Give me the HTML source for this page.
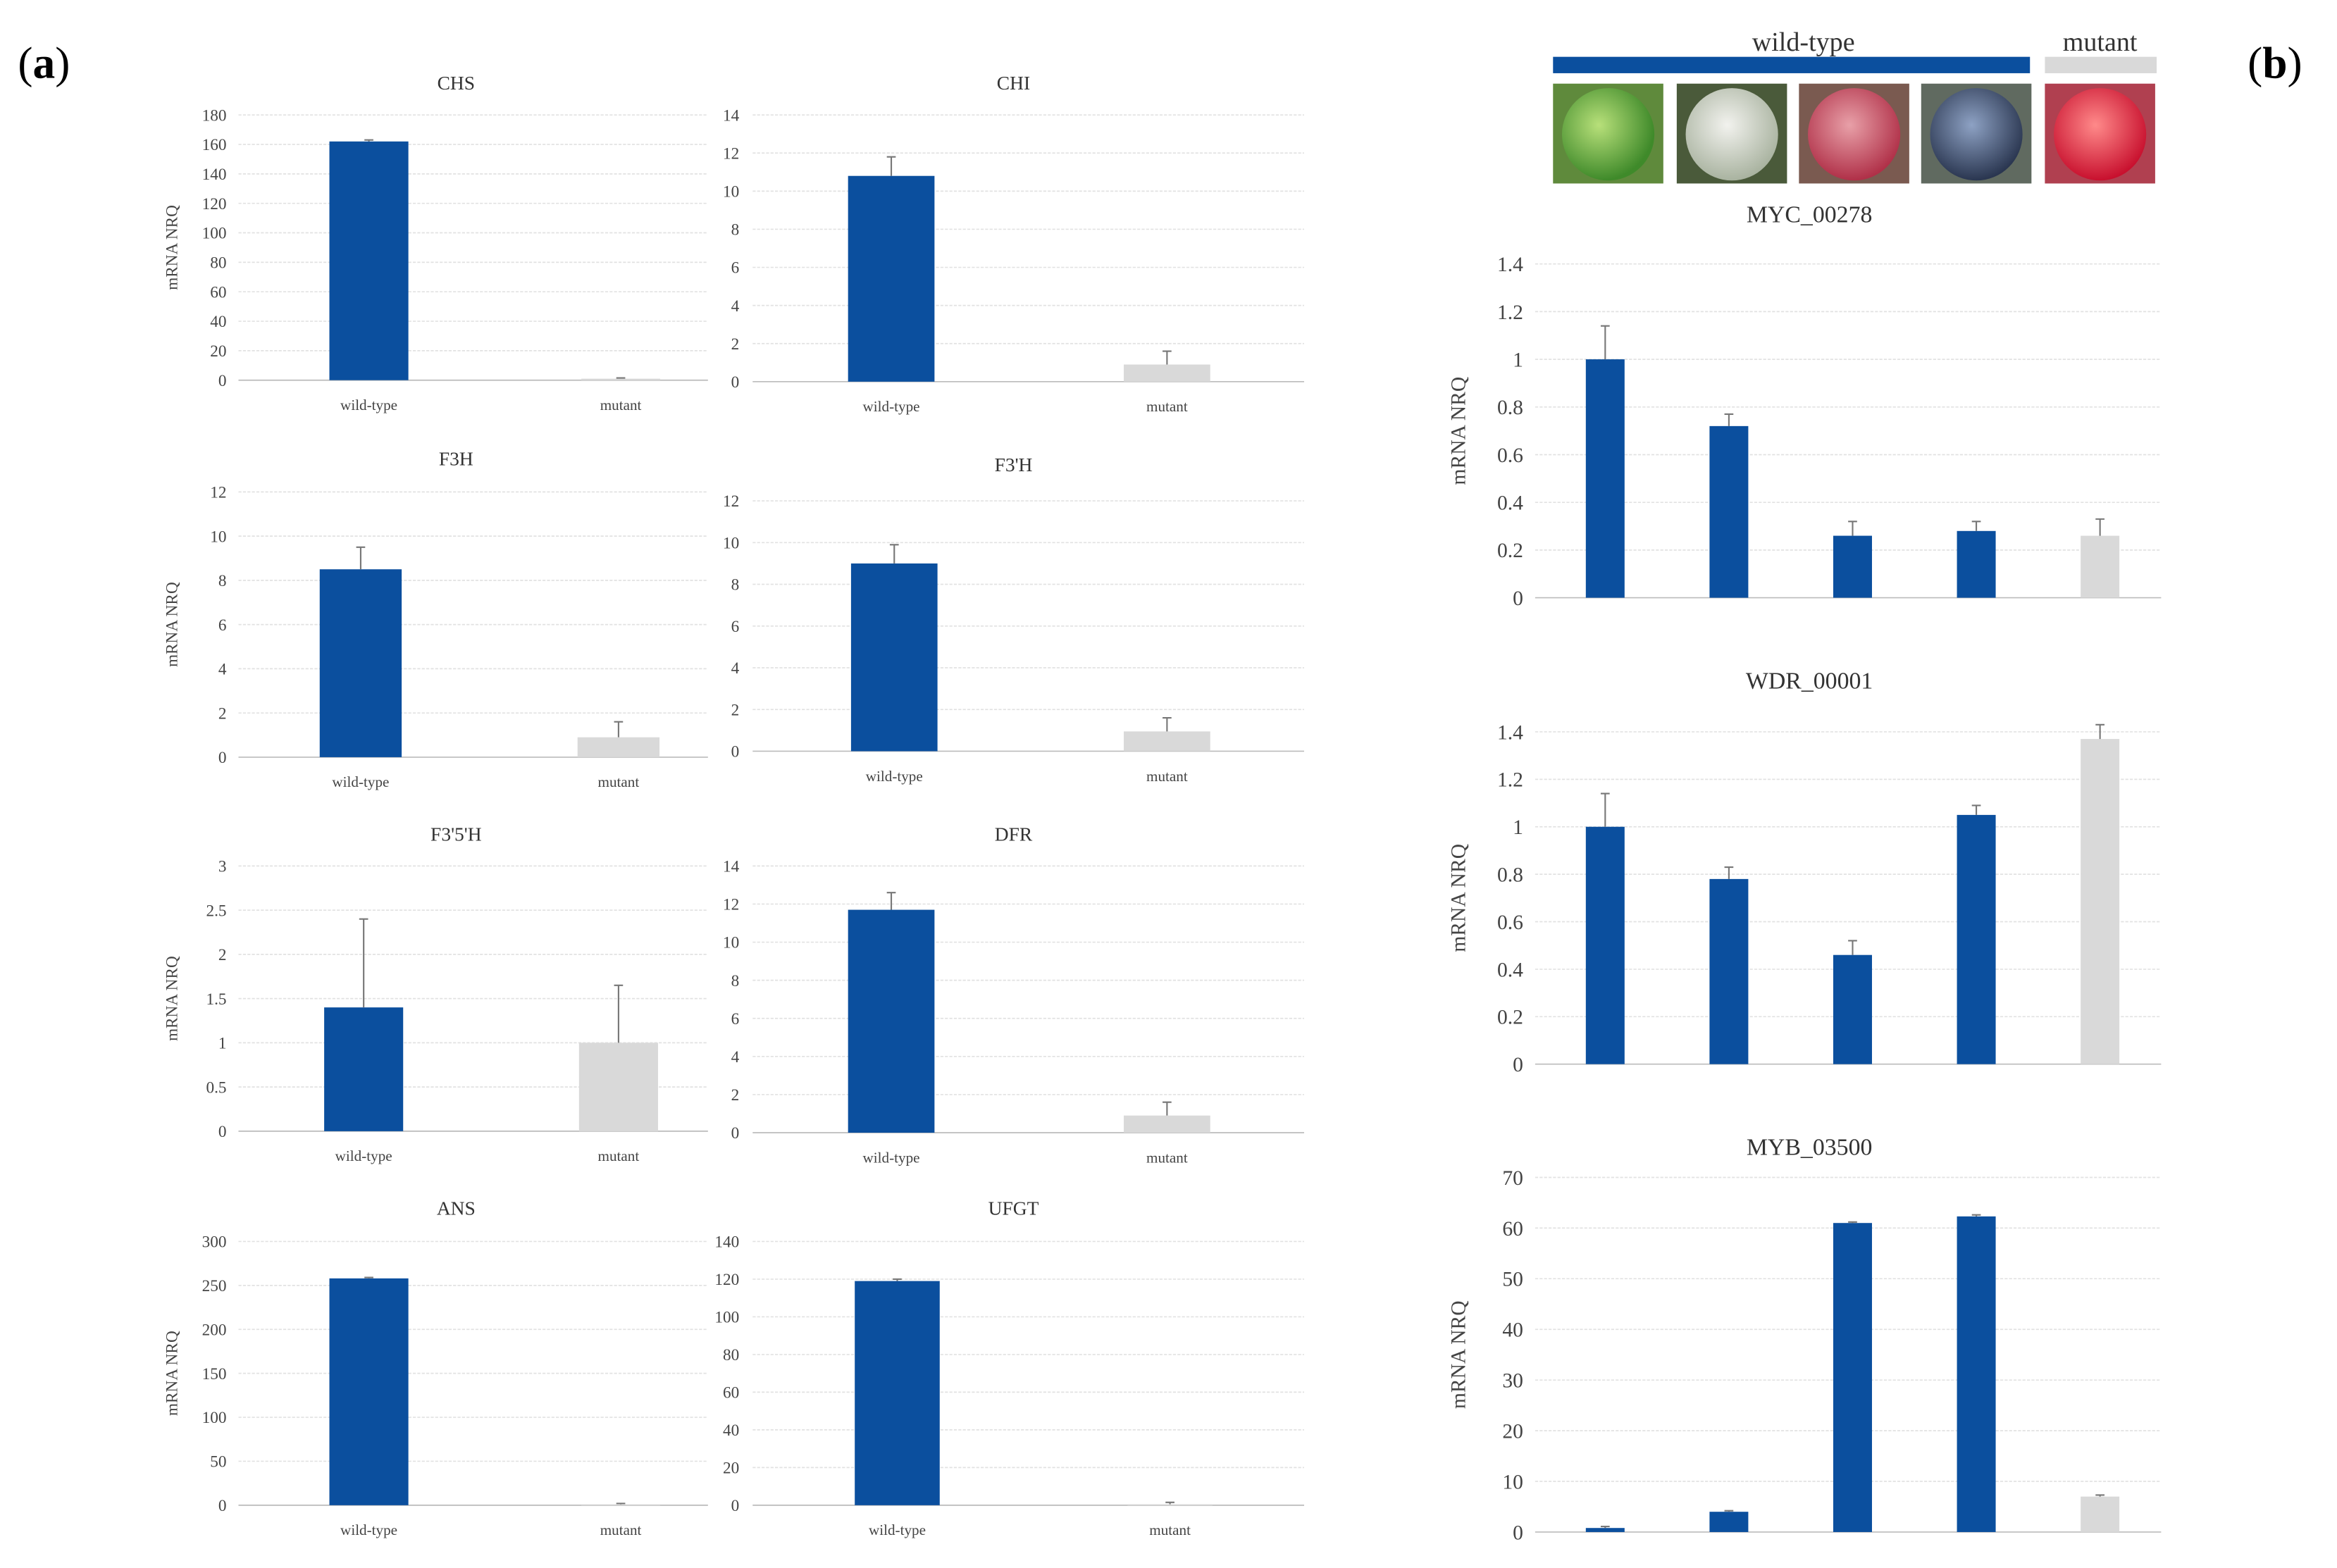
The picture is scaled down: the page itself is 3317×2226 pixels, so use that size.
<!DOCTYPE html>
<html><head><meta charset="utf-8">
<style>
html,body{margin:0;padding:0;background:#fff;}
svg{display:block;font-family:"Liberation Serif",serif;}
</style></head>
<body>
<svg id="fig" width="3317" height="2226" viewBox="0 0 1568 1052" xmlns="http://www.w3.org/2000/svg">
<defs>
<radialGradient id="g1" cx="40%" cy="40%" r="60%"><stop offset="0" stop-color="#b8e07a"/><stop offset="1" stop-color="#3f8a2a"/></radialGradient>
<radialGradient id="g2" cx="45%" cy="40%" r="60%"><stop offset="0" stop-color="#f2f2ee"/><stop offset="1" stop-color="#a9b3a0"/></radialGradient>
<radialGradient id="g3" cx="45%" cy="40%" r="60%"><stop offset="0" stop-color="#e8a0a8"/><stop offset="1" stop-color="#b03048"/></radialGradient>
<radialGradient id="g4" cx="45%" cy="40%" r="60%"><stop offset="0" stop-color="#8ea2c4"/><stop offset="1" stop-color="#2a3650"/></radialGradient>
<radialGradient id="g5" cx="45%" cy="40%" r="60%"><stop offset="0" stop-color="#ff8a8a"/><stop offset="1" stop-color="#c8102e"/></radialGradient>
</defs>
<g id="root"></g>
</svg>
<script>
// ---- data ----
const catsA = ["wild-type", "mutant"];
const catsB = ["", "", "", "", ""];
const chsValues = [162, 1];   const chsErrors = [1, 0.5];   const chsTicks = [0,20,40,60,80,100,120,140,160,180];
const chiValues = [10.8, 0.9]; const chiErrors = [1.0, 0.7]; const chiTicks = [0,2,4,6,8,10,12,14];
const f3hValues = [8.5, 0.9];  const f3hErrors = [1.0, 0.7]; const f3hTicks = [0,2,4,6,8,10,12];
const f3phValues = [9.0, 0.95]; const f3phErrors = [0.9, 0.65]; const f3phTicks = [0,2,4,6,8,10,12];
const f35hValues = [1.4, 1.0]; const f35hErrors = [1.0, 0.65]; const f35hTicks = [0,0.5,1,1.5,2,2.5,3];
const dfrValues = [11.7, 0.9]; const dfrErrors = [0.9, 0.7]; const dfrTicks = [0,2,4,6,8,10,12,14];
const ansValues = [258, 1];    const ansErrors = [1, 1];    const ansTicks = [0,50,100,150,200,250,300];
const ufgtValues = [119, 0.5]; const ufgtErrors = [1, 1];   const ufgtTicks = [0,20,40,60,80,100,120,140];
const mycValues = [1, 0.72, 0.26, 0.28, 0.26]; const mycErrors = [0.14, 0.05, 0.06, 0.04, 0.07];
const wdrValues = [1, 0.78, 0.46, 1.05, 1.37]; const wdrErrors = [0.14, 0.05, 0.06, 0.04, 0.06];
const mybValues = [0.8, 4, 61, 62.3, 7];       const mybErrors = [0.3, 0.2, 0.2, 0.3, 0.3];
const ticksB1 = [0,0.2,0.4,0.6,0.8,1,1.2,1.4];
const ticksB3 = [0,10,20,30,40,50,60,70];

const NS = "http://www.w3.org/2000/svg";
const root = document.getElementById("root");
const BLUE = "#0b4f9e", GREY = "#d9d9d9";
function mk(tag, attrs, parent, text){
  const e = document.createElementNS(NS, tag);
  for (const k in attrs) e.setAttribute(k, attrs[k]);
  if (text !== undefined) e.textContent = text;
  (parent || root).appendChild(e);
  return e;
}
function chart(c){
  const g = mk("g", {});
  
  
  const max = c.ticks[c.ticks.length-1];
  const y = v => c.y0 - (v / max) * (c.y0 - c.yTop);
  const bw = (c.bx1 - c.bx0) / c.values.length;
  const xc = i => c.bx0 + (i + 0.5) * bw;
  const t = mk("text", {x: c.tx, y: c.titleY, "text-anchor": "middle", "font-size": c.fs + 2, fill: "#333"}, g, c.title);
  
  
  c.ticks.forEach(v => {
    const gl = mk("line", {x1: c.gx0, x2: c.gx1, y1: y(v), y2: y(v), stroke: v === 0 ? "#bbb" : "#e2e2e2", "stroke-width": 0.8, "stroke-dasharray": v === 0 ? "" : "2,1"}, g);
    
    
    const tl = mk("text", {x: c.lx, y: y(v) + c.fs * 0.35, "text-anchor": "end", "font-size": c.fs, fill: "#444"}, g, String(v));
    
    
  });
  if (c.ylab){
    const yl = mk("text", {x: c.ylabX, y: (c.y0 + c.yTop)/2, "text-anchor": "middle", "font-size": c.fs, fill: "#444", transform: `rotate(-90 ${c.ylabX} ${(c.y0 + c.yTop)/2})`}, g, "mRNA NRQ");
    
    
  }
  c.values.forEach((v, i) => {
    const col = (c.greyIdx === i) ? GREY : BLUE;
    const r = mk("rect", {x: xc(i) - c.w/2, y: y(v), width: c.w, height: c.y0 - y(v), fill: col}, g);
    
    
    const e = c.errors[i];
    const eb = mk("path", {d: `M${xc(i)} ${y(v)} V${y(v+e)} M${xc(i)-3} ${y(v+e)} H${xc(i)+3}`, stroke: "#777", "stroke-width": 1, fill: "none"}, g);
    
    
    if (c.cats[i]){
      const xl = mk("text", {x: xc(i), y: c.y0 + 20, "text-anchor": "middle", "font-size": c.fs - 1, fill: "#444"}, g, c.cats[i]);
      
      
    }
  });
}
const L = {gx0: 160, gx1: 475, lx: 152, ylab: true, ylabX: 119, fs: 11, cats: catsA, greyIdx: 1};
const R = {gx0: 505, gx1: 875, lx: 496, ylab: false, fs: 11, cats: catsA, greyIdx: 1};
chart(Object.assign({}, L, {name: "chart-chs", title: "CHS", tx: 306, titleY: 60, yTop: 77, y0: 255, bx0: 163, bx1: 501, w: 53, values: chsValues, errors: chsErrors, ticks: chsTicks}));
chart(Object.assign({}, R, {name: "chart-chi", title: "CHI", tx: 680, titleY: 60, yTop: 77, y0: 256, bx0: 505.5, bx1: 875.5, w: 58, values: chiValues, errors: chiErrors, ticks: chiTicks}));
chart(Object.assign({}, L, {name: "chart-f3h", title: "F3H", tx: 306, titleY: 312, yTop: 330, y0: 508, bx0: 155.5, bx1: 501.5, w: 55, values: f3hValues, errors: f3hErrors, ticks: f3hTicks}));
chart(Object.assign({}, R, {name: "chart-f3prime-h", title: "F3'H", tx: 680, titleY: 316, yTop: 336, y0: 504, bx0: 508.5, bx1: 874.5, w: 58, values: f3phValues, errors: f3phErrors, ticks: f3phTicks}));
chart(Object.assign({}, L, {name: "chart-f35h", title: "F3'5'H", tx: 306, titleY: 564, yTop: 581, y0: 759, bx0: 158.5, bx1: 500.5, w: 53, values: f35hValues, errors: f35hErrors, ticks: f35hTicks}));
chart(Object.assign({}, R, {name: "chart-dfr", title: "DFR", tx: 680, titleY: 564, yTop: 581, y0: 760, bx0: 505.5, bx1: 875.5, w: 58, values: dfrValues, errors: dfrErrors, ticks: dfrTicks}));
chart(Object.assign({}, L, {name: "chart-ans", title: "ANS", tx: 306, titleY: 815, yTop: 833, y0: 1010, bx0: 163, bx1: 501, w: 53, values: ansValues, errors: ansErrors, ticks: ansTicks}));
chart(Object.assign({}, R, {name: "chart-ufgt", title: "UFGT", tx: 680, titleY: 815, yTop: 833, y0: 1010, bx0: 510.5, bx1: 876.5, w: 57, values: ufgtValues, errors: ufgtErrors, ticks: ufgtTicks}));
const B = {gx0: 1030, gx1: 1450, lx: 1022, ylab: true, ylabX: 983, fs: 14, cats: catsB, greyIdx: 4, bx0: 1035.5, bx1: 1450.5, w: 26, tx: 1214};
chart(Object.assign({}, B, {name: "chart-myc-00278", title: "MYC_00278", titleY: 149, yTop: 177, y0: 401, values: mycValues, errors: mycErrors, ticks: ticksB1}));
chart(Object.assign({}, B, {name: "chart-wdr-00001", title: "WDR_00001", titleY: 462, yTop: 491, y0: 714, values: wdrValues, errors: wdrErrors, ticks: ticksB1}));
chart(Object.assign({}, B, {name: "chart-myb-03500", title: "MYB_03500", titleY: 775, yTop: 790, y0: 1028, values: mybValues, errors: mybErrors, ticks: ticksB3}));

// panel labels
let p = mk("text", {x: 12, y: 52, "font-size": 30, fill: "#000"}, root);
 
p.innerHTML = '(<tspan font-weight="bold">a</tspan>)';
p = mk("text", {x: 1508, y: 52, "font-size": 30, fill: "#000"}, root);
 
p.innerHTML = '(<tspan font-weight="bold">b</tspan>)';

// header
p = mk("text", {x: 1210, y: 34, "text-anchor": "middle", "font-size": 18, fill: "#333"}, root, "wild-type");
 
p = mk("rect", {x: 1042, y: 38, width: 320, height: 11, fill: BLUE}, root);
 
p = mk("text", {x: 1409, y: 34, "text-anchor": "middle", "font-size": 18, fill: "#333"}, root, "mutant");
 
p = mk("rect", {x: 1372, y: 38, width: 75, height: 11, fill: GREY}, root);
 
const photoX = [1042, 1125, 1207, 1289, 1372];
const bgs = ["#5f8a3c", "#4a5a3a", "#7a5a50", "#606a60", "#b04050"];
photoX.forEach((x, i) => {
  const g = mk("g", {});
  
  
  mk("rect", {x: x, y: 56, width: 74, height: 67, fill: bgs[i]}, g);
  mk("circle", {cx: x + 37, cy: 90, r: 31, fill: `url(#g${i+1})`}, g);
});
</script>
</body></html>
